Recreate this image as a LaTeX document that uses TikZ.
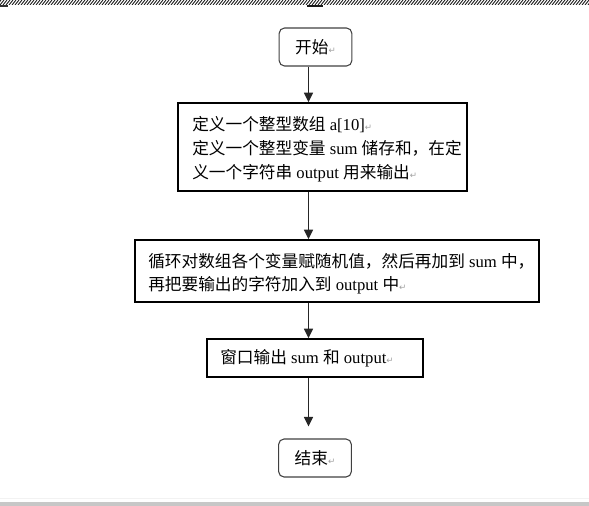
\documentclass[tikz,border=0pt]{standalone}
\usepackage{fontspec}
\setmainfont{Liberation Serif}
\newfontfamily\cjk{Noto Sans CJK SC}
\newfontfamily\symf{DejaVu Sans}
\usetikzlibrary{arrows.meta}
\definecolor{marker}{HTML}{A0A0A0}
\newcommand\rmk{{\symf\fontsize{6.5}{6.5}\selectfont\color{marker}↵}}
\begin{document}
\begin{tikzpicture}[x=0.75pt,y=-0.75pt,
  box/.style={draw=black,line width=1.1pt,inner sep=0pt},
  term/.style={draw=black!75,line width=0.8pt,rounded corners=4pt,inner sep=0pt,minimum width=54.5pt,minimum height=28.5pt},
  txt/.style={anchor=west,align=left,inner sep=0pt,font=\fontsize{12.5}{18}\selectfont},
  flow/.style={draw=black!85,line width=1.1pt,-{Triangle[width=6.75pt,length=7.2pt]}},
  hatch/.style={line width=0.7pt,black!85}]
\useasboundingbox (0,0) rectangle (589,506);
% top band
\begin{scope}
\clip (0,0) rectangle (589,5);
\foreach \i in {-6,-3,...,592} \draw[hatch] (\i,5) -- (\i+4,0);
\end{scope}
\fill[black!80] (0,5) rectangle (8,7.3);
\fill[black!90] (306.5,5) rectangle (323,7.3);
% bottom band
\fill[black!5] (0,497.5) rectangle (589,499);
\fill[black!22] (0,502) rectangle (589,506);
% nodes
\node[term,font=\fontsize{12.5}{15}\selectfont] (s) at (315.5,47) {\cjk 开始\rmk};
\node[box,minimum width=216.75pt,minimum height=66pt] (b1) at (322.5,147) {};
\node[txt] (t1) at (192,149.5) {{\cjk 定义一个整型数组} a[10]\rmk\\
{\cjk 定义一个整型变量} sum {\cjk 储存和，在定}\\
{\cjk 义一个字符串} output {\cjk 用来输出}\rmk};
\node[box,minimum width=303pt,minimum height=46.5pt] (b2) at (337,271) {};
\node[txt,font=\fontsize{12.5}{17.4}\selectfont] (t2) at (148,273.5) {{\cjk 循环对数组各个变量赋随机值，然后再加到} sum {\cjk 中，}\\
{\cjk 再把要输出的字符加入到} output {\cjk 中}\rmk};
\node[box,minimum width=162pt,minimum height=28.5pt] (b3) at (315,358) {};
\node[txt] (t3) at (220,358.5) {{\cjk 窗口输出} sum {\cjk 和} output\rmk};
\node[term,font=\fontsize{12.5}{15}\selectfont] (e) at (315,458) {\cjk 结束\rmk};
% connectors
\coordinate (ax) at (308.5,0);
\draw[flow] (ax |- s.south) -- (ax |- b1.north);
\draw[flow] (ax |- b1.south) -- (ax |- b2.north);
\draw[flow] (ax |- b2.south) -- (ax |- b3.north);
\draw[flow,shorten >=9pt] (ax |- b3.south) -- (ax |- e.north);
\end{tikzpicture}
\end{document}
